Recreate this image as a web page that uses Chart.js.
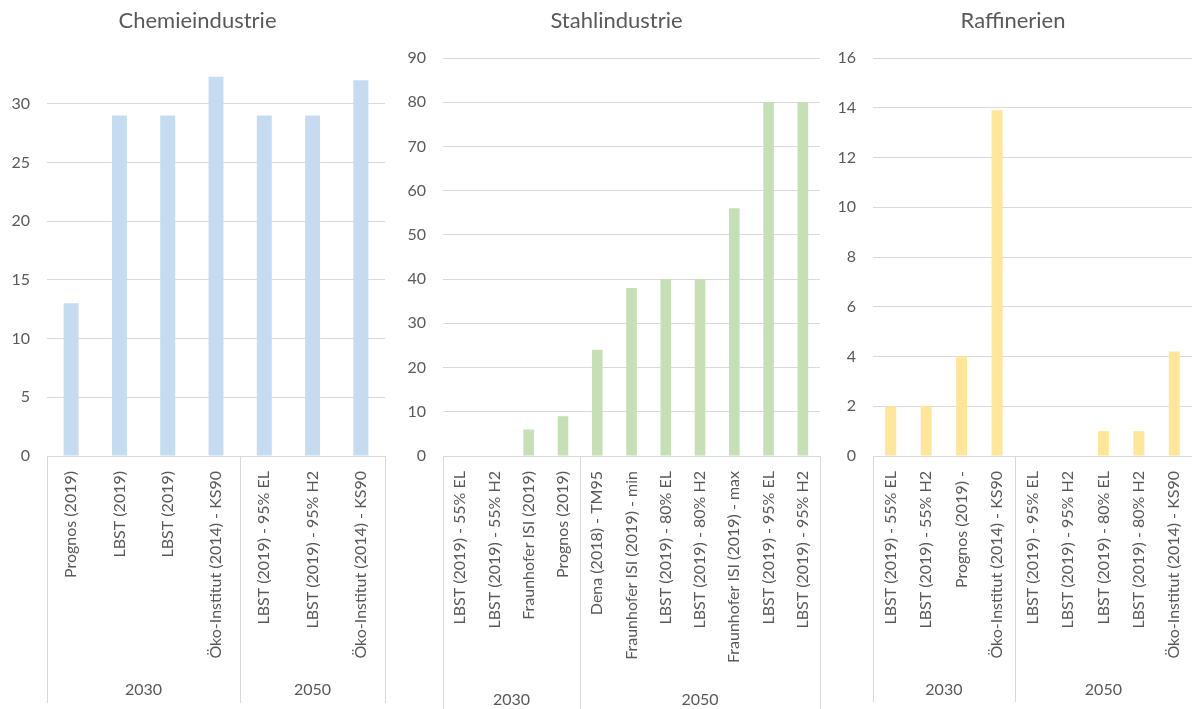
<!DOCTYPE html>
<html>
<head>
<meta charset="utf-8">
<script src="https://cdn.jsdelivr.net/npm/chart.js@4.4.1/dist/chart.umd.min.js"></script>
<style>
  body { margin: 0; background: #fff; }
  .panel { position: absolute; top: 0; height: 709px; }
</style>
</head>
<body>
<div class="panel" style="left:0px;width:395px"><canvas id="chemieChart"></canvas></div>
<div class="panel" style="left:400px;width:433px"><canvas id="stahlChart"></canvas></div>
<div class="panel" style="left:834px;width:358px"><canvas id="raffChart"></canvas></div>
<script>
const chemieLabels = [
    "Prognos (2019)", "LBST (2019)", "LBST (2019)", "Öko-Institut (2014) - KS90",
    "LBST (2019) - 95% EL", "LBST (2019) - 95% H2", "Öko-Institut (2014) - KS90"
];
const chemieValues = [13, 29, 29, 32.3, 29, 29, 32];
const chemieGroups = ["2030", "2050"];
const chemieGroupSizes = [4, 3];

const stahlLabels = [
    "LBST (2019) - 55% EL", "LBST (2019) - 55% H2", "Fraunhofer ISI (2019)", "Prognos (2019)",
    "Dena (2018) - TM95", "Fraunhofer ISI (2019) - min", "LBST (2019) - 80% EL", "LBST (2019) - 80% H2",
    "Fraunhofer ISI (2019) - max", "LBST (2019) - 95% EL", "LBST (2019) - 95% H2"
];
const stahlValues = [0, 0, 6, 9, 24, 38, 40, 40, 56, 80, 80];
const stahlGroups = ["2030", "2050"];
const stahlGroupSizes = [4, 7];

const raffLabels = [
    "LBST (2019) - 55% EL", "LBST (2019) - 55% H2", "Prognos (2019) -", "Öko-Institut (2014) - KS90",
    "LBST (2019) - 95% EL", "LBST (2019) - 95% H2", "LBST (2019) - 80% EL", "LBST (2019) - 80% H2",
    "Öko-Institut (2014) - KS90"
];
const raffValues = [2, 2, 4, 13.9, 0, 0, 1, 1, 4.2];
const raffGroups = ["2030", "2050"];
const raffGroupSizes = [4, 5];

const FONT = "Lato";
const TEXT = "#595959";
const GRID = "#d9d9d9";

// zweite Achsenebene (Jahre) unter den Kategorien
const groupPlugin = {
    id: "groups",
    afterDraw(chart, args, opts) {
        const { ctx, chartArea, scales } = chart;
        const x = scales.x;
        const n = x.getLabels().length;
        const bounds = [chartArea.left];
        let idx = 0;
        opts.sizes.forEach(size => {
            idx += size;
            if (idx < n) {
                bounds.push((x.getPixelForValue(idx - 1) + x.getPixelForValue(idx)) / 2);
            } else {
                bounds.push(chartArea.right);
            }
        });
        ctx.save();
        ctx.strokeStyle = GRID;
        ctx.lineWidth = 1;
        bounds.forEach(b => {
            const px = Math.round(b) + 0.5;
            ctx.beginPath();
            ctx.moveTo(px, chartArea.bottom);
            ctx.lineTo(px, opts.lineEnd);
            ctx.stroke();
        });
        ctx.fillStyle = TEXT;
        ctx.font = "16px " + FONT;
        ctx.textAlign = "center";
        ctx.textBaseline = "middle";
        opts.labels.forEach((label, i) => {
            ctx.fillText(label, (bounds[i] + bounds[i + 1]) / 2, opts.labelY);
        });
        ctx.restore();
    }
};

function makeChart(id, title, labels, values, color, yMax, yStep, yWidth, padRight, titleBottom, groups, sizes, labelY, lineEnd, hideTop) {
    const ctx = document.getElementById(id).getContext("2d");
    return new Chart(ctx, {
        type: "bar",
        data: {
            labels: labels,
            datasets: [{
                data: values,
                backgroundColor: color,
                barPercentage: 0.31,
                categoryPercentage: 1
            }]
        },
        options: {
            responsive: true,
            maintainAspectRatio: false,
            animation: false,
            layout: { padding: 0 },
            plugins: {
                legend: { display: false },
                tooltip: { enabled: false },
                title: {
                    display: true,
                    text: title,
                    color: TEXT,
                    font: { family: FONT, size: 22, weight: "normal" },
                    padding: { top: 8, bottom: titleBottom }
                },
                groups: { labels: groups, sizes: sizes, labelY: labelY, lineEnd: lineEnd }
            },
            scales: {
                x: {
                    grid: { display: false, drawTicks: false },
                    border: { display: true, color: GRID },
                    ticks: {
                        color: TEXT,
                        font: { family: FONT, size: 16 },
                        minRotation: 90,
                        maxRotation: 90,
                        autoSkip: false,
                        padding: 15
                    },
                    afterFit: scale => {
                        scale.height = 253;
                        scale.paddingLeft = 0;
                        scale.paddingRight = padRight; // Abstand rechts, Titel bleibt zentriert
                    }
                },
                y: {
                    min: 0,
                    max: yMax,
                    border: { display: false },
                    grid: {
                        color: c => (hideTop && c.tick && c.tick.value === yMax) ? "rgba(0,0,0,0)" : GRID,
                        drawTicks: false
                    },
                    ticks: {
                        stepSize: yStep,
                        color: TEXT,
                        padding: 17,
                        font: { family: FONT, size: 16 },
                        callback: v => (hideTop && v === yMax) ? "" : v
                    },
                    afterFit: scale => { scale.width = yWidth; }
                }
            }
        },
        plugins: [groupPlugin]
    });
}

makeChart("chemieChart", "Chemieindustrie", chemieLabels, chemieValues, "#c5dcf0",
    35, 5, 47, 10, 10.6, chemieGroups, chemieGroupSizes, 690, 703, true);
makeChart("stahlChart", "Stahlindustrie", stahlLabels, stahlValues, "#c5e0b4",
    90, 10, 43, 13, 23.6, stahlGroups, stahlGroupSizes, 700, 709, false);
makeChart("raffChart", "Raffinerien", raffLabels, raffValues, "#ffe699",
    16, 2, 39, 0, 23.6, raffGroups, raffGroupSizes, 690, 702, false);
</script>
</body>
</html>
